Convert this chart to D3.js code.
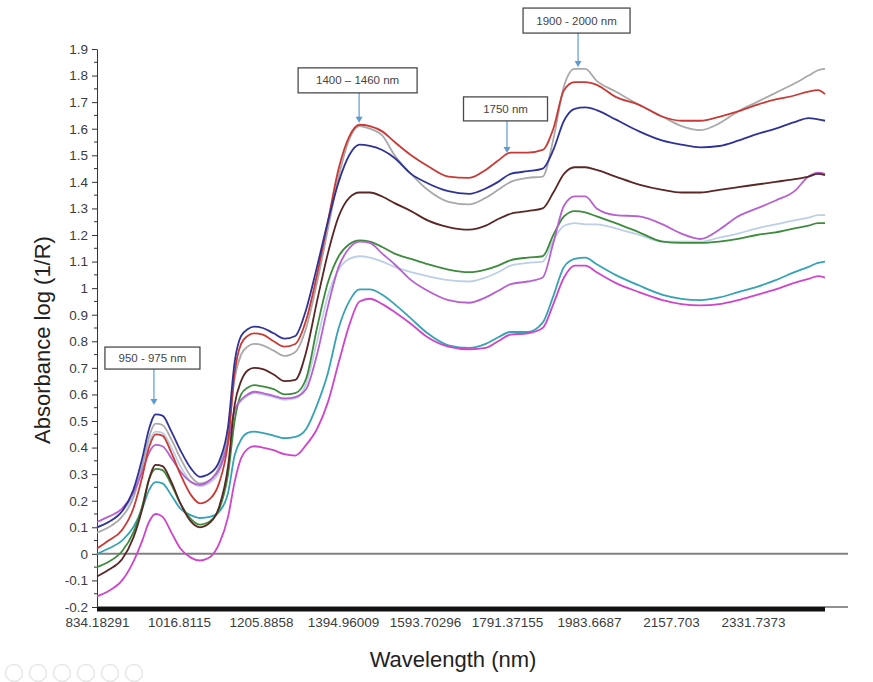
<!DOCTYPE html>
<html>
<head>
<meta charset="utf-8">
<script src="https://cdn.jsdelivr.net/npm/d3@7"></script>
<style>
  body { margin: 0; background: #fff; }
  svg { display: block; font-family: "Liberation Sans", Arial, sans-serif; }
</style>
</head>
<body>
<div id="chart"></div>
<script>
// Category labels shown under the x axis (nm)
const tickValues = [834.18291, 1016.8115, 1205.8858, 1394.96009, 1593.70296, 1791.37155, 1983.6687, 2157.703, 2331.7373];
const tickLabels = ["834.18291", "1016.8115", "1205.8858", "1394.96009", "1593.70296", "1791.37155", "1983.6687", "2157.703", "2331.7373"];
const yTicks = [-0.2, -0.1, 0, 0.1, 0.2, 0.3, 0.4, 0.5, 0.6, 0.7, 0.8, 0.9, 1, 1.1, 1.2, 1.3, 1.4, 1.5, 1.6, 1.7, 1.8, 1.9];
const yMinor = [-0.15, -0.05, 0.05, 0.15, 0.25, 0.35, 0.45, 0.55, 0.65, 0.75, 0.85, 0.95, 1.05, 1.15, 1.25, 1.35, 1.45, 1.55, 1.65, 1.75, 1.85];

// Sampled wavelengths (nm)
const wavelengths = [834.18, 860, 890, 915, 935, 950, 965, 980, 1000, 1020,
  1045, 1065, 1090, 1110, 1130, 1145, 1160, 1175, 1190, 1210,
  1235, 1260, 1285, 1310, 1335, 1360, 1385, 1410, 1435, 1460,
  1490, 1520, 1560, 1600, 1650, 1700, 1740, 1770, 1800, 1840,
  1875, 1900, 1925, 1950, 1975, 2000, 2040, 2090, 2140, 2180,
  2220, 2260, 2300, 2340, 2380, 2420, 2450, 2470, 2485];

// Absorbance spectra, one array per sample
const lavender = [0.10, 0.12, 0.16, 0.22, 0.33, 0.42, 0.46, 0.455, 0.40, 0.33,
  0.27, 0.255, 0.27, 0.31, 0.42, 0.54, 0.575, 0.595, 0.605, 0.60,
  0.59, 0.58, 0.585, 0.64, 0.80, 0.97, 1.07, 1.11, 1.12, 1.115,
  1.10, 1.08, 1.06, 1.045, 1.03, 1.025, 1.04, 1.06, 1.085, 1.095,
  1.10, 1.18, 1.235, 1.245, 1.24, 1.24, 1.225, 1.20, 1.175, 1.175,
  1.175, 1.19, 1.205, 1.225, 1.24, 1.255, 1.265, 1.275, 1.275];
const gray = [0.08, 0.10, 0.14, 0.21, 0.33, 0.44, 0.49, 0.485, 0.43, 0.36,
  0.29, 0.265, 0.28, 0.33, 0.45, 0.66, 0.75, 0.78, 0.79, 0.785,
  0.765, 0.745, 0.76, 0.85, 1.02, 1.22, 1.42, 1.56, 1.61, 1.60,
  1.575, 1.50, 1.43, 1.37, 1.325, 1.315, 1.34, 1.37, 1.40, 1.415,
  1.42, 1.56, 1.76, 1.825, 1.825, 1.78, 1.74, 1.69, 1.645, 1.61,
  1.595, 1.62, 1.665, 1.70, 1.735, 1.77, 1.80, 1.82, 1.825];
const teal = [0.00, 0.02, 0.05, 0.10, 0.17, 0.24, 0.27, 0.265, 0.22, 0.17,
  0.145, 0.135, 0.14, 0.16, 0.23, 0.37, 0.43, 0.455, 0.46, 0.455,
  0.445, 0.435, 0.44, 0.47, 0.56, 0.68, 0.85, 0.95, 0.995, 0.995,
  0.975, 0.94, 0.885, 0.83, 0.785, 0.775, 0.79, 0.815, 0.835, 0.835,
  0.87, 0.97, 1.08, 1.11, 1.115, 1.09, 1.05, 1.01, 0.975, 0.96,
  0.955, 0.965, 0.985, 1.005, 1.03, 1.06, 1.08, 1.095, 1.10];
const magenta = [-0.16, -0.14, -0.10, -0.03, 0.05, 0.12, 0.15, 0.14, 0.08, 0.02,
  -0.015, -0.025, -0.01, 0.04, 0.14, 0.27, 0.36, 0.395, 0.405, 0.40,
  0.39, 0.375, 0.37, 0.41, 0.47, 0.57, 0.72, 0.86, 0.95, 0.96,
  0.94, 0.91, 0.865, 0.815, 0.78, 0.77, 0.775, 0.80, 0.825, 0.83,
  0.85, 0.94, 1.04, 1.085, 1.085, 1.06, 1.02, 0.985, 0.955, 0.94,
  0.935, 0.94, 0.955, 0.975, 0.995, 1.02, 1.035, 1.045, 1.04];
const green = [-0.05, -0.03, 0.01, 0.08, 0.18, 0.28, 0.32, 0.315, 0.26, 0.19,
  0.13, 0.11, 0.125, 0.17, 0.30, 0.50, 0.60, 0.625, 0.635, 0.63,
  0.62, 0.60, 0.605, 0.66, 0.85, 1.02, 1.12, 1.165, 1.18, 1.175,
  1.155, 1.13, 1.11, 1.09, 1.07, 1.06, 1.07, 1.085, 1.105, 1.115,
  1.12, 1.20, 1.27, 1.29, 1.285, 1.27, 1.245, 1.21, 1.175, 1.17,
  1.17, 1.175, 1.185, 1.20, 1.21, 1.225, 1.235, 1.245, 1.245];
const violet = [0.12, 0.14, 0.17, 0.23, 0.31, 0.38, 0.41, 0.405, 0.36, 0.31,
  0.27, 0.26, 0.28, 0.32, 0.42, 0.54, 0.58, 0.60, 0.61, 0.605,
  0.595, 0.585, 0.59, 0.62, 0.75, 0.93, 1.08, 1.15, 1.175, 1.17,
  1.13, 1.09, 1.03, 0.99, 0.955, 0.945, 0.965, 0.99, 1.015, 1.025,
  1.04, 1.17, 1.31, 1.345, 1.345, 1.30, 1.275, 1.27, 1.24, 1.205,
  1.185, 1.22, 1.27, 1.30, 1.33, 1.365, 1.42, 1.435, 1.43];
const brown = [-0.085, -0.06, -0.02, 0.06, 0.17, 0.28, 0.335, 0.33, 0.27, 0.19,
  0.12, 0.10, 0.12, 0.18, 0.33, 0.56, 0.65, 0.69, 0.70, 0.695,
  0.675, 0.65, 0.655, 0.76, 0.95, 1.13, 1.27, 1.34, 1.36, 1.36,
  1.345, 1.32, 1.29, 1.255, 1.23, 1.22, 1.235, 1.26, 1.28, 1.29,
  1.30, 1.36, 1.43, 1.455, 1.455, 1.445, 1.42, 1.39, 1.37, 1.36,
  1.36, 1.37, 1.38, 1.39, 1.40, 1.41, 1.42, 1.43, 1.425];
const red = [0.02, 0.05, 0.09, 0.17, 0.29, 0.40, 0.45, 0.445, 0.38, 0.30,
  0.22, 0.19, 0.21, 0.27, 0.42, 0.68, 0.79, 0.82, 0.83, 0.825,
  0.80, 0.78, 0.79, 0.88, 1.05, 1.25, 1.45, 1.57, 1.615, 1.61,
  1.59, 1.55, 1.50, 1.46, 1.42, 1.415, 1.445, 1.48, 1.51, 1.51,
  1.52, 1.60, 1.745, 1.775, 1.775, 1.765, 1.72, 1.69, 1.645, 1.63,
  1.63, 1.645, 1.665, 1.69, 1.71, 1.725, 1.74, 1.745, 1.73];
const blue = [0.10, 0.12, 0.16, 0.24, 0.36, 0.47, 0.525, 0.52, 0.46, 0.39,
  0.32, 0.29, 0.305, 0.35, 0.48, 0.72, 0.82, 0.845, 0.855, 0.85,
  0.83, 0.81, 0.82, 0.92, 1.08, 1.25, 1.40, 1.50, 1.54, 1.535,
  1.52, 1.49, 1.43, 1.395, 1.365, 1.355, 1.375, 1.40, 1.43, 1.44,
  1.45, 1.52, 1.63, 1.675, 1.68, 1.67, 1.635, 1.59, 1.555, 1.54,
  1.53, 1.535, 1.555, 1.58, 1.60, 1.625, 1.64, 1.635, 1.63];

const series = [
  { values: lavender, color: "#bccfe6" },
  { values: gray, color: "#a9a9a9" },
  { values: teal, color: "#36a2b4" },
  { values: magenta, color: "#cf45c9" },
  { values: green, color: "#3d8b3d" },
  { values: violet, color: "#b760cf" },
  { values: brown, color: "#5a2626" },
  { values: red, color: "#c93a36" },
  { values: blue, color: "#2f3296" }
];

// Callouts: label text and the point on the spectra they point to
const callouts = [
  { text: "950 - 975 nm", wl: 961, val: 0.56, w: 95, h: 22, lift: 36 },
  { text: "1400 \u2013 1460 nm", wl: 1434, val: 1.622, w: 119, h: 25, lift: 30 },
  { text: "1750 nm", wl: 1791.4, val: 1.509, w: 84, h: 24, lift: 32 },
  { text: "1900 - 2000 nm", wl: 1958, val: 1.832, w: 107, h: 25, lift: 34 }
];

const width = 873, height = 682;
const left = 97, xStep = 82, dataEnd = 825, axisEnd = 848;

const svg = d3.select("#chart").append("svg")
  .attr("width", width)
  .attr("height", height);

const y = d3.scaleLinear().domain([-0.2, 1.9]).range([607, 49]);

// Category-style axis: labels evenly spaced, wavelength mapped piecewise
const xDomain = tickValues.concat([wavelengths[wavelengths.length - 1]]);
const x = d3.scaleLinear()
  .domain(xDomain)
  .range(xDomain.map((d, i) => i < tickValues.length ? left + i * xStep : dataEnd));

// Zero line
svg.append("line")
  .attr("x1", left).attr("x2", axisEnd)
  .attr("y1", y(0)).attr("y2", y(0))
  .attr("stroke", "#808080")
  .attr("stroke-width", 2);

// Bottom axis: thin line plus the dense tick band
svg.append("line")
  .attr("x1", left).attr("x2", axisEnd)
  .attr("y1", y(-0.2)).attr("y2", y(-0.2))
  .attr("stroke", "#222")
  .attr("stroke-width", 1);
svg.append("rect")
  .attr("x", x(wavelengths[0]))
  .attr("y", y(-0.2))
  .attr("width", x(wavelengths[wavelengths.length - 1]) - x(wavelengths[0]))
  .attr("height", 4.5)
  .attr("fill", "#111");

const xAxis = svg.append("g")
  .attr("transform", `translate(0,${y(-0.2)})`)
  .call(d3.axisBottom(x)
    .tickValues(tickValues)
    .tickFormat((d, i) => tickLabels[i])
    .tickSize(0)
    .tickPadding(10));
xAxis.select(".domain").remove();
xAxis.selectAll("text")
  .attr("font-size", 13.5)
  .attr("fill", "#3c3c3c")
  .style("font-family", "Liberation Sans, Arial, sans-serif");

// Left axis
const yAxis = svg.append("g")
  .attr("transform", `translate(${left},0)`)
  .call(d3.axisLeft(y)
    .tickValues(yTicks)
    .tickFormat(d => String(+d.toFixed(1)))
    .tickSize(5)
    .tickSizeOuter(0)
    .tickPadding(4));
yAxis.select(".domain").attr("stroke", "#333");
yAxis.selectAll(".tick line").attr("stroke", "#333");
yAxis.selectAll("text")
  .attr("font-size", 13.5)
  .attr("fill", "#3c3c3c")
  .style("font-family", "Liberation Sans, Arial, sans-serif");

svg.append("g").selectAll("line")
  .data(yMinor)
  .enter().append("line")
  .attr("x1", left - 3).attr("x2", left)
  .attr("y1", d => y(d)).attr("y2", d => y(d))
  .attr("stroke", "#333");

// Spectra
const line = d3.line()
  .x((d, i) => x(wavelengths[i]))
  .y(d => y(d))
  .curve(d3.curveMonotoneX);

svg.append("g").selectAll("path")
  .data(series)
  .enter().append("path")
  .attr("d", d => line(d.values))
  .attr("fill", "none")
  .attr("stroke", d => d.color)
  .attr("stroke-width", 1.8)
  .attr("stroke-linejoin", "round");

// Callout boxes and arrows
const arrowColor = "#5b9bd5";
const co = svg.append("g").selectAll("g")
  .data(callouts)
  .enter().append("g");

co.append("line")
  .attr("x1", d => x(d.wl)).attr("x2", d => x(d.wl))
  .attr("y1", d => y(d.val) - d.lift)
  .attr("y2", d => y(d.val) - 4)
  .attr("stroke", arrowColor)
  .attr("stroke-width", 1.2);
co.append("path")
  .attr("d", d => {
    const tx = x(d.wl), ty = y(d.val);
    return `M${tx - 3.5},${ty - 6}L${tx + 3.5},${ty - 6}L${tx},${ty}Z`;
  })
  .attr("fill", arrowColor);
co.append("rect")
  .attr("x", d => x(d.wl) - 1.5 - d.w / 2)
  .attr("y", d => y(d.val) - d.lift - d.h)
  .attr("width", d => d.w)
  .attr("height", d => d.h)
  .attr("fill", "#fff")
  .attr("stroke", "#4a4a4a")
  .attr("stroke-width", 1.3);
co.append("text")
  .attr("x", d => x(d.wl) - 1.5)
  .attr("y", d => y(d.val) - d.lift - d.h / 2)
  .attr("dy", "0.35em")
  .attr("text-anchor", "middle")
  .attr("font-size", 11.5)
  .attr("fill", "#444")
  .text(d => d.text);

// Axis titles
svg.append("text")
  .attr("transform", `translate(50,340) rotate(-90)`)
  .attr("text-anchor", "middle")
  .attr("font-size", 22)
  .attr("fill", "#222")
  .text("Absorbance log (1/R)");

svg.append("text")
  .attr("x", 453)
  .attr("y", 667)
  .attr("text-anchor", "middle")
  .attr("font-size", 22)
  .attr("fill", "#222")
  .text("Wavelength (nm)");

// Faint slide controls in the lower left corner
svg.append("g").selectAll("circle")
  .data([0, 1, 2, 3, 4, 5])
  .enter().append("circle")
  .attr("cx", d => 14 + d * 24)
  .attr("cy", 673)
  .attr("r", 8.5)
  .attr("fill", "none")
  .attr("stroke", "#e6e6e6")
  .attr("stroke-width", 1.5);
</script>
</body>
</html>
